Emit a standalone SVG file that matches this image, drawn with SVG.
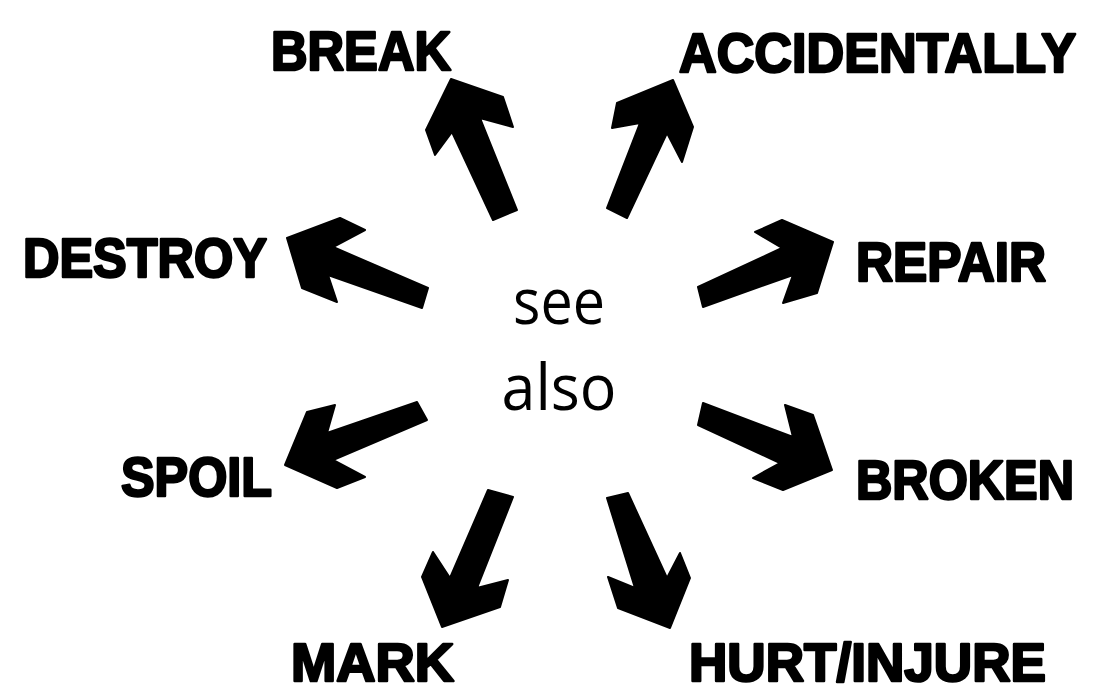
<svg xmlns="http://www.w3.org/2000/svg" width="1096" height="690" viewBox="0 0 1096 690">
  <style>
    .lbl { font-family: "Liberation Sans", Arial, sans-serif; font-weight: bold; font-size: 55px; fill: #000; stroke: #000; stroke-width: 2.5; stroke-linejoin: round; }
    .low { font-size: 53px; }
    .ctr { font-family: "Open Sans", "Liberation Sans", sans-serif; font-size: 64px; fill: #000; text-anchor: middle; }
    .arr { fill: #000; stroke: #000; stroke-width: 2; stroke-linejoin: round; }
  </style>
  <rect width="1096" height="690" fill="#fff"/>
  <g id="center">
    <text class="ctr" x="559" y="324" textLength="92" lengthAdjust="spacingAndGlyphs">see</text>
    <text class="ctr" x="559" y="410" textLength="115" lengthAdjust="spacingAndGlyphs">also</text>
  </g>
  <g id="connectors">
    <polygon class="arr" points="451,79 503,97 513,127 480,118 517,210 493,220 452,132 435,155 426,130"/>
    <polygon class="arr" points="673,80 693,127 682,162 667,133 627,218 607,208 640,123 612,128 617,103"/>
    <polygon class="arr" points="287,238 340,218 365,230 333,247 428,288 422,308 328,275 337,302 302,288"/>
    <polygon class="arr" points="833,242 817,293 783,303 793,275 703,307 698,287 782,248 755,232 782,220"/>
    <polygon class="arr" points="832,470 783,490 753,478 780,463 698,425 703,403 793,437 785,405 813,415"/>
    <polygon class="arr" points="285,465 307,412 335,405 327,433 417,402 427,420 333,460 365,477 337,488"/>
    <polygon class="arr" points="442,627 422,577 433,552 450,578 488,490 513,497 477,588 508,580 500,607"/>
    <polygon class="arr" points="670,628 618,608 608,577 635,588 607,498 628,493 667,578 680,553 690,578"/>
  </g>
  <g id="break"><text class="lbl" x="271" y="70" textLength="180" lengthAdjust="spacingAndGlyphs">BREAK</text></g>
  <g id="accidentally"><text class="lbl" x="679" y="72" textLength="397" lengthAdjust="spacingAndGlyphs">ACCIDENTALLY</text></g>
  <g id="destroy"><text class="lbl" x="23" y="277" textLength="244" lengthAdjust="spacingAndGlyphs">DESTROY</text></g>
  <g id="repair"><text class="lbl" x="856" y="281" textLength="190" lengthAdjust="spacingAndGlyphs">REPAIR</text></g>
  <g id="broken"><text class="lbl" x="856" y="499" textLength="218" lengthAdjust="spacingAndGlyphs">BROKEN</text></g>
  <g id="spoil"><text class="lbl" x="121" y="496" textLength="151" lengthAdjust="spacingAndGlyphs">SPOIL</text></g>
  <g id="mark"><text class="lbl low" x="291" y="681" textLength="163" lengthAdjust="spacingAndGlyphs">MARK</text></g>
  <g id="hurt-injure"><text class="lbl low" x="689" y="681" textLength="357" lengthAdjust="spacingAndGlyphs">HURT/INJURE</text></g>
</svg>
